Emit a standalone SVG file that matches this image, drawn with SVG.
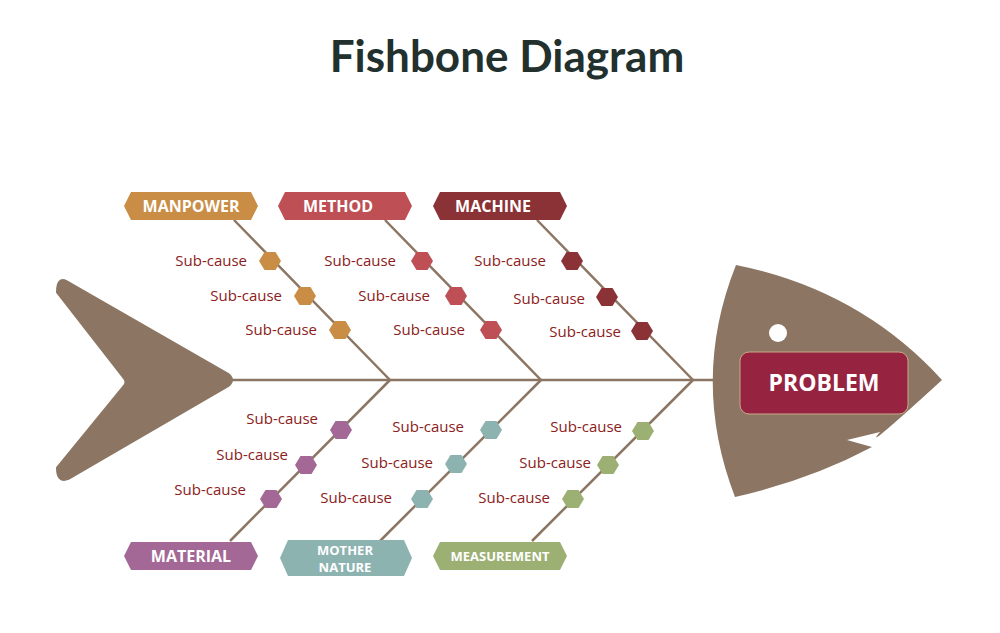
<svg xmlns="http://www.w3.org/2000/svg" width="1000" height="633" viewBox="0 0 1000 633">
<defs>
<style>
.bone{stroke:#8C7663;stroke-width:2.5;fill:none}
.sub{font-family:"Open Sans","Liberation Sans",sans-serif;font-size:15px;fill:#8B2020;text-anchor:end}
.tag{font-family:"Open Sans","Liberation Sans",sans-serif;font-size:16px;font-weight:bold;fill:#fff;text-anchor:middle}
.tag2{font-family:"Open Sans","Liberation Sans",sans-serif;font-size:13px;font-weight:bold;fill:#fff;text-anchor:middle}
</style>
<path id="hx" d="M-11,0 L-5.5,-9 L5.5,-9 L11,0 L5.5,9 L-5.5,9 Z"/>
<path id="tg" d="M-67,0 L-60,-14 L60,-14 L67,0 L60,14 L-60,14 Z"/>
</defs>
<rect width="1000" height="633" fill="#fff"/>
<text x="507" y="72" font-family="Lato,'Open Sans',sans-serif" font-size="44" font-weight="bold" fill="#22302E" text-anchor="middle">Fishbone Diagram</text>
<g id="tail"><path d="M66,282 Q58,278 58,292 L125,378 Q128,382 125,386 L58,468 Q58,482 68,478 L228,385 Q234,380 228,375 Z" fill="#8C7663" stroke="#8C7663" stroke-width="4" stroke-linejoin="round"/></g>
<g id="connectors">
<line class="bone" x1="232" y1="380" x2="716" y2="380"/>
<line class="bone" x1="390" y1="380" x2="234" y2="220"/>
<line class="bone" x1="541" y1="380" x2="385" y2="220"/>
<line class="bone" x1="693" y1="380" x2="537" y2="220"/>
<line class="bone" x1="390" y1="380" x2="230" y2="541"/>
<line class="bone" x1="541" y1="380" x2="380" y2="541"/>
<line class="bone" x1="693" y1="380" x2="532" y2="541"/>
</g>
<g id="head">
<path d="M736,265 Q860,290 942,380 Q860,455 880,432 L847,440 L872,447 Q810,480 735,497 Q690,380 736,265 Z" fill="#8C7663"/>
<circle cx="778" cy="333" r="9" fill="#fff"/>
<rect x="740" y="352" width="168" height="62" rx="9" fill="#962340" stroke="#C9A98A" stroke-width="1"/>
<text x="824" y="391" font-family="'Open Sans','Liberation Sans',sans-serif" font-size="23" font-weight="bold" fill="#fff" text-anchor="middle">PROBLEM</text>
</g>
<g id="manpower"><use href="#tg" x="191" y="206" fill="#C98D45"/><text class="tag" x="191" y="212">MANPOWER</text>
<use href="#hx" x="270" y="261" fill="#C98D45"/><use href="#hx" x="305" y="296" fill="#C98D45"/><use href="#hx" x="340" y="330" fill="#C98D45"/>
<text class="sub" x="247" y="266">Sub-cause</text><text class="sub" x="282" y="301">Sub-cause</text><text class="sub" x="317" y="335">Sub-cause</text></g>
<g id="method"><use href="#tg" x="345" y="206" fill="#BE4F55"/><text class="tag" x="338" y="212">METHOD</text>
<use href="#hx" x="422" y="261" fill="#BE4F55"/><use href="#hx" x="456" y="296" fill="#BE4F55"/><use href="#hx" x="491" y="330" fill="#BE4F55"/>
<text class="sub" x="396" y="266">Sub-cause</text><text class="sub" x="430" y="301">Sub-cause</text><text class="sub" x="465" y="335">Sub-cause</text></g>
<g id="machine"><use href="#tg" x="500" y="206" fill="#8B3237"/><text class="tag" x="493" y="212">MACHINE</text>
<use href="#hx" x="572" y="261" fill="#8B3237"/><use href="#hx" x="607" y="297" fill="#8B3237"/><use href="#hx" x="642" y="331" fill="#8B3237"/>
<text class="sub" x="546" y="266">Sub-cause</text><text class="sub" x="585" y="304">Sub-cause</text><text class="sub" x="621" y="337">Sub-cause</text></g>
<g id="material"><use href="#tg" x="191" y="556" fill="#A36895"/><text class="tag" x="191" y="562">MATERIAL</text>
<use href="#hx" x="341" y="430" fill="#A36895"/><use href="#hx" x="306" y="465" fill="#A36895"/><use href="#hx" x="271" y="499" fill="#A36895"/>
<text class="sub" x="318" y="424">Sub-cause</text><text class="sub" x="288" y="460">Sub-cause</text><text class="sub" x="246" y="495">Sub-cause</text></g>
<g id="mother-nature"><path d="M280,558 L288,540 L404,540 L412,558 L404,576 L288,576 Z" fill="#8DB3B1"/><text class="tag2" x="345" y="555">MOTHER</text><text class="tag2" x="345" y="572">NATURE</text>
<use href="#hx" x="491" y="430" fill="#8DB3B1"/><use href="#hx" x="456" y="464" fill="#8DB3B1"/><use href="#hx" x="422" y="499" fill="#8DB3B1"/>
<text class="sub" x="464" y="432">Sub-cause</text><text class="sub" x="433" y="468">Sub-cause</text><text class="sub" x="392" y="503">Sub-cause</text></g>
<g id="measurement"><use href="#tg" x="500" y="556" fill="#9CB074"/><text class="tag2" x="500" y="561">MEASUREMENT</text>
<use href="#hx" x="643" y="431" fill="#9CB074"/><use href="#hx" x="608" y="465" fill="#9CB074"/><use href="#hx" x="573" y="499" fill="#9CB074"/>
<text class="sub" x="622" y="432">Sub-cause</text><text class="sub" x="591" y="468">Sub-cause</text><text class="sub" x="550" y="503">Sub-cause</text></g>
</svg>
